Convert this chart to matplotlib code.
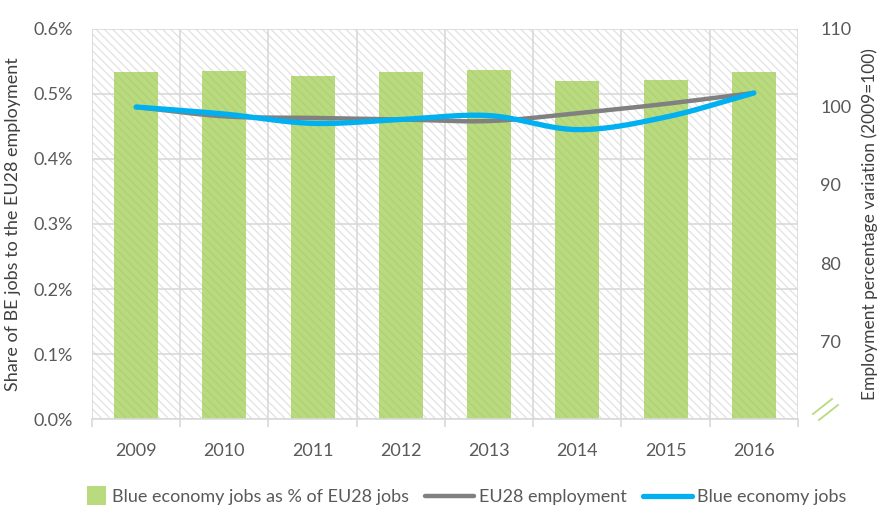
import matplotlib
matplotlib.use("Agg")
import matplotlib.pyplot as plt
from matplotlib.patches import Rectangle
from matplotlib.legend_handler import HandlerPatch
import numpy as np

plt.rcParams['font.family'] = ['Lato', 'DejaVu Sans']
plt.rcParams['hatch.linewidth'] = 0.9

years = ['2009', '2010', '2011', '2012', '2013', '2014', '2015', '2016']
share_pct = [0.534, 0.535, 0.528, 0.534, 0.537, 0.520, 0.522, 0.534]
eu28_index = [100.0, 98.8, 98.6, 98.4, 98.2, 99.2, 100.4, 101.8]
blue_index = [100.0, 99.1, 97.9, 98.4, 98.9, 97.1, 98.7, 101.8]

GRAY_TXT = '#595959'
GRID = '#D9D9D9'
GREEN = '#B9DA7E'


def smooth(x, y, n=24):
    # Catmull-Rom style smoothing, like Excel's "smoothed line"
    x = np.asarray(x, float)
    y = np.asarray(y, float)
    px = np.concatenate([[2 * x[0] - x[1]], x, [2 * x[-1] - x[-2]]])
    py = np.concatenate([[2 * y[0] - y[1]], y, [2 * y[-1] - y[-2]]])
    xs, ys = [], []
    t = np.linspace(0, 1, n, endpoint=False)
    for i in range(1, len(px) - 2):
        for p, out in ((px, xs), (py, ys)):
            p0, p1, p2, p3 = p[i - 1], p[i], p[i + 1], p[i + 2]
            out.extend(0.5 * ((2 * p1) + (-p0 + p2) * t
                              + (2 * p0 - 5 * p1 + 4 * p2 - p3) * t ** 2
                              + (-p0 + 3 * p1 - 3 * p2 + p3) * t ** 3))
    xs.append(x[-1])
    ys.append(y[-1])
    return np.array(xs), np.array(ys)


def square_patch(legend, orig_handle, xdescent, ydescent, width, height, fontsize):
    # small square legend key, sitting at the right end of the handle box
    s = height * 1.5
    return Rectangle((width - s - xdescent, -ydescent - (s - height) / 2), s, s)


fig = plt.figure(figsize=(8.83, 5.15), dpi=100)
ax = fig.add_axes([0.1042, 0.1864, 0.7995, 0.7573])

# hatched plot area
ax.patch.set_facecolor('white')
ax.patch.set_hatch('\\\\\\\\')
ax.patch.set_edgecolor('#E2E2E2')
ax.patch.set_linewidth(0)

x = np.arange(len(years))
ax.bar(x, share_pct, width=0.5, color=GREEN, edgecolor='#AED273',
       hatch='\\\\\\\\', linewidth=0, zorder=2)
bar_key = Rectangle((0, 0), 1, 1, color=GREEN, linewidth=0,
                    label='Blue economy jobs as % of EU28 jobs')

ax.set_xlim(-0.5, len(years) - 0.5)
ax.set_ylim(0, 0.6)
ax.set_yticks(np.arange(0, 0.61, 0.1))
ax.set_yticklabels([f'{v:.1f}%' for v in np.arange(0, 0.61, 0.1)])
ax.set_xticks(x)
ax.set_xticklabels(years)
ax.set_xticks(np.arange(-0.5, len(years), 1), minor=True)
ax.tick_params(axis='x', which='major', length=0, pad=17, labelsize=13, colors=GRAY_TXT)
ax.tick_params(axis='x', which='minor', length=6, width=1.2, color=GRID)
ax.tick_params(axis='y', length=0, pad=14, labelsize=13, colors=GRAY_TXT)
ax.grid(axis='y', color=GRID, linewidth=1.2)
ax.grid(axis='x', which='minor', color=GRID, linewidth=1.2)
ax.set_axisbelow(True)
for s in ['top', 'left', 'right']:
    ax.spines[s].set_visible(False)
ax.spines['bottom'].set_color(GRID)
ax.spines['bottom'].set_linewidth(1.2)
ax.set_ylabel('Share of BE jobs to the EU28 employment', fontsize=13,
              color='#404040', labelpad=9)

ax2 = ax.twinx()
ax2.set_ylim(60, 110)
ax2.set_yticks([70, 80, 90, 100, 110])
ax2.tick_params(axis='y', length=0, pad=16, labelsize=13, colors=GRAY_TXT)
for s in ax2.spines.values():
    s.set_visible(False)

sx, sy = smooth(x, eu28_index)
l1, = ax2.plot(sx, sy, color='#808080', linewidth=3.2, solid_capstyle='round',
               label='EU28 employment')
sx, sy = smooth(x, blue_index)
l2, = ax2.plot(sx, sy, color='#00B0F0', linewidth=3.8, solid_capstyle='round',
               label='Blue economy jobs')
ax2.set_ylabel('Employment percentage variation (2009=100)', fontsize=12.5,
               color='#404040', labelpad=7)

# axis break mark on the secondary axis
for x0, y0 in ((1.0212, 0.0128), (1.0297, -0.0026)):
    ax2.plot([x0, x0 + 0.027], [y0, y0 + 0.0385], transform=ax2.transAxes,
             color=GREEN, linewidth=1.3, clip_on=False)

fig.legend(handles=[bar_key, l1, l2], loc='center', ncol=3,
           bbox_to_anchor=(0.512, 0.035), frameon=False, fontsize=13,
           handlelength=2.7, handletextpad=0.3, columnspacing=0.9,
           labelcolor=GRAY_TXT,
           handler_map={bar_key: HandlerPatch(patch_func=square_patch)})

fig.savefig('out.png', dpi=100)
